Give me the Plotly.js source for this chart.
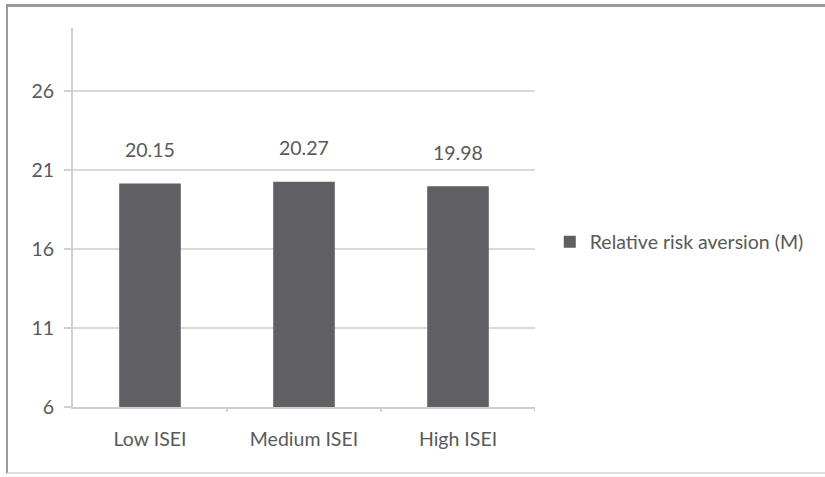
<!DOCTYPE html>
<html>
<head>
<meta charset="utf-8">
<script src="https://cdn.plot.ly/plotly-3.0.1.min.js"></script>
<style>
html,body{margin:0;padding:0;background:#fff;}
#frame{position:absolute;left:6px;top:4px;width:819px;height:470px;border-left:2px solid #9a9a9a;border-top:3px solid #9a9a9a;border-bottom:2px solid #e0e0e0;box-sizing:border-box;}
#chart{position:absolute;left:0;top:0;width:825px;height:477px;}
</style>
</head>
<body>
<div id="frame"></div>
<div id="chart"></div>
<script>
const categories = ["Low ISEI", "Medium ISEI", "High ISEI"];
const values = [20.15, 20.27, 19.98];
const labels = ["20.15", "20.27", "19.98"];
const seriesName = "Relative risk aversion (M)";
const tickVals = [6, 11, 16, 21, 26];
const axisMin = 6;

const font = {family: "Lato, 'Open Sans', sans-serif", size: 19.5, color: "#595959"};

const trace = {
  type: "bar",
  x: categories,
  y: values.map(v => v - axisMin),
  base: axisMin,
  name: seriesName,
  width: 0.4,
  marker: {color: "#606064"},
  showlegend: true,
  hoverinfo: "skip"
};

const annotations = categories.map((c, i) => ({
  x: c, y: values[i], xref: "x", yref: "y",
  text: labels[i], showarrow: false, yshift: 34,
  font: font
}));

const layout = {
  width: 825, height: 477,
  paper_bgcolor: "rgba(0,0,0,0)",
  plot_bgcolor: "rgba(0,0,0,0)",
  margin: {l: 73, r: 290, t: 28, b: 70},
  font: font,
  xaxis: {
    type: "category",
    showline: true, linecolor: "#d0d0d0", linewidth: 2,
    ticks: "", showgrid: false,
    tickfont: font,
    range: [-0.5, 2.5],
    ticklabelstandoff: 14
  },
  yaxis: {
    range: [axisMin, 30],
    tickvals: tickVals,
    ticktext: tickVals.map(String),
    showline: true, linecolor: "#d0d0d0", linewidth: 2,
    ticks: "outside", ticklen: 7, tickcolor: "#d0d0d0", tickwidth: 2,
    showgrid: true, gridcolor: "#d9d9d9", gridwidth: 2,
    zeroline: false,
    tickfont: font,
    ticklabelstandoff: 6
  },
  legend: {
    x: 1.032, xanchor: "left", xref: "paper",
    y: 0.435, yanchor: "middle",
    font: font,
    bgcolor: "rgba(0,0,0,0)"
  },
  annotations: annotations,
  shapes: [0.5, 1.5, 2.5].map(p => ({
    type: "line", xref: "x", yref: "paper", x0: p, x1: p, y0: 0, y1: -0.012,
    line: {color: "#d0d0d0", width: 2}
  }))
};

Plotly.newPlot("chart", [trace], layout, {displayModeBar: false, staticPlot: true});
</script>
</body>
</html>
